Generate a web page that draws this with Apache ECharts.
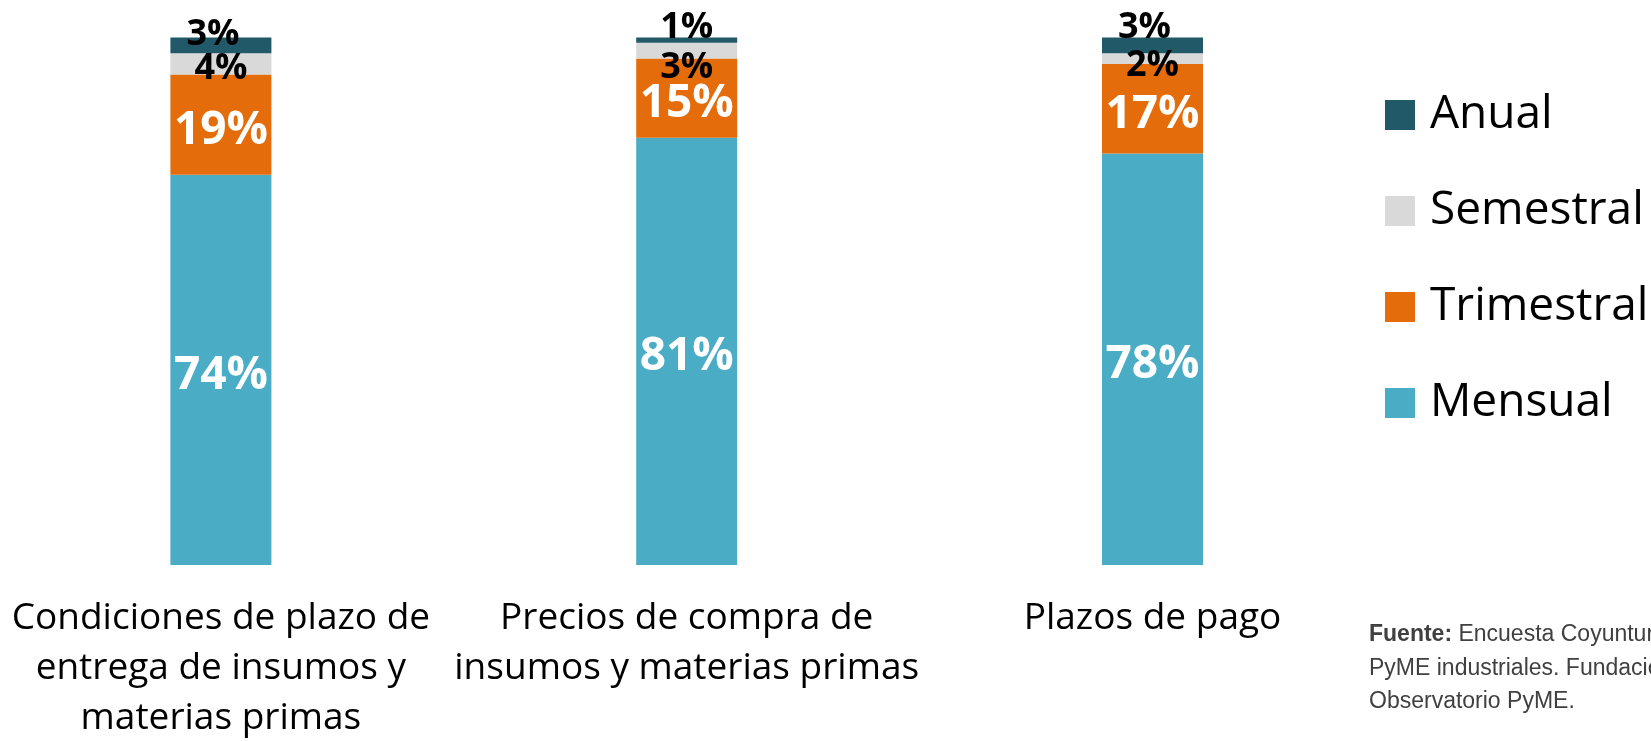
<!DOCTYPE html>
<html>
<head>
<meta charset="utf-8">
<script src="https://cdn.jsdelivr.net/npm/echarts@6/dist/echarts.min.js"></script>
<style>
 html,body{margin:0;padding:0;background:#fff;}
 #grafico{width:1651px;height:741px;}
</style>
</head>
<body>
<div id="grafico"></div>
<script>
// datos
var categorias=['Condiciones de plazo de\nentrega de insumos y\nmaterias primas','Precios de compra de\ninsumos y materias primas','Plazos de pago'];
var mensual=[74,81,78];
var trimestral=[19,15,17];
var semestral=[4,3,2];
var anual=[3,1,3];
var leyenda=['Anual','Semestral','Trimestral','Mensual'];

// desplazamiento de etiquetas
var despSemestral=[[0,5],[0,17],[0,7]];
var despAnual=[[-8,-11],[0,-12],[-8,-18]];
var despBlanco=[[0,6],[0,6],[0,6]];

var colores={Mensual:'#4BACC6',Trimestral:'#E46C0A',Semestral:'#D9D9D9',Anual:'#215968'};

function conDesp(valores,desp){
    var res=[];
    for(var i=0;i<valores.length;i++){
        res.push({value:valores[i],label:{offset:desp[i]}});
    }
    return res;
}

function serie(nombre,datos,colorTexto,tam){
    return {
        name:nombre,
        type:'bar',
        stack:'total',
        barWidth:101,
        data:datos,
        itemStyle:{color:colores[nombre]},
        label:{
            show:true,
            position:'inside',
            formatter:'{c}%',
            color:colorTexto,
            fontFamily:'Open Sans',
            fontWeight:'bold',
            fontSize:tam
        },
        emphasis:{disabled:true}
    };
}

window.onload=function(){
    var chart=echarts.init(document.getElementById('grafico'));
    var option={
        animation:false,
        grid:{left:-12,right:265.6,top:37.5,bottom:176,containLabel:false,outerBoundsMode:'none'},
        legend:{
            orient:'vertical',
            left:1385,
            top:90,
            padding:0,
            data:leyenda,
            icon:'rect',
            itemWidth:30,
            itemHeight:30,
            itemGap:46,
            selectedMode:false,
            textStyle:{
                fontFamily:'Open Sans',
                fontSize:46,
                lineHeight:46,
                color:'#000',
                padding:[4,0,0,10]
            }
        },
        xAxis:{
            type:'category',
            data:categorias,
            axisLine:{show:false},
            axisTick:{show:false},
            splitLine:{show:false},
            axisLabel:{
                interval:0,
                margin:28,
                color:'#000',
                fontFamily:'Open Sans',
                fontSize:37,
                lineHeight:50,
                align:'center'
            }
        },
        yAxis:{
            type:'value',
            min:0,
            max:100,
            show:false,
            splitLine:{show:false}
        },
        series:[
            serie('Mensual',conDesp(mensual,despBlanco),'#fff',46),
            serie('Trimestral',conDesp(trimestral,despBlanco),'#fff',46),
            serie('Semestral',conDesp(semestral,despSemestral),'#000',36),
            serie('Anual',conDesp(anual,despAnual),'#000',36)
        ],
        graphic:[{
            type:'text',
            left:1369,
            top:618,
            style:{
                text:'{b|Fuente:} Encuesta Coyuntural a\nPyME industriales. Fundación\nObservatorio PyME.',
                fontFamily:'Liberation Sans',
                fontSize:23,
                lineHeight:33.5,
                fill:'#404040',
                rich:{
                    b:{fontWeight:'bold',fontFamily:'Liberation Sans',fontSize:23,lineHeight:33.5,fill:'#404040'}
                }
            }
        }]
    };
    chart.setOption(option);
};
</script>
</body>
</html>
